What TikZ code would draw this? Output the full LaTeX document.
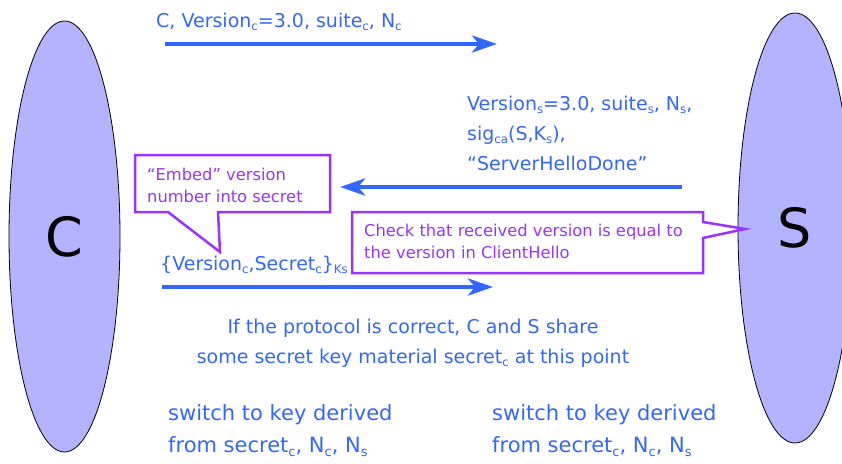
\documentclass[tikz,border=0pt]{standalone}
\usepackage{fontspec}
\setmainfont{DejaVu Sans}
\usetikzlibrary{arrows.meta,shapes.geometric}

\definecolor{msgblue}{RGB}{51,102,255}
\definecolor{notepurple}{RGB}{153,51,255}
\definecolor{partyfill}{RGB}{179,179,255}
\newcommand{\lo}[1]{\raisebox{-0.35ex}{\scalebox{0.62}{#1}}}

\begin{document}
\begin{tikzpicture}[x=1pt,y=-1pt,
	party/.style={ellipse, draw=black, thick, fill=partyfill, inner sep=0pt, font=\fontsize{54}{54}\selectfont},
	msg/.style={draw=msgblue, line width=4.5pt, -{Stealth[length=25pt,width=17pt,inset=7pt]}},
	msgtext/.style={anchor=base west, inner sep=0pt, text=msgblue, font=\fontsize{19}{19}\selectfont},
	bigtext/.style={anchor=base west, inner sep=0pt, text=msgblue, font=\fontsize{21}{21}\selectfont},
	note/.style={draw=notepurple, line width=2.5pt, fill=white, line join=miter},
	notetext/.style={anchor=base west, inner sep=0pt, text=notepurple, font=\fontsize{16.3}{16.3}\selectfont}]
	\useasboundingbox (0,0) rectangle (842,463);

	% the two parties
	\node[party, minimum width=111pt, minimum height=431pt] (C) at (64.5,236.5) {C};
	\node[party, minimum width=114pt, minimum height=430pt] (S) at (795,228) {S};

	% ClientHello
	\node[msgtext] (hello) at (156,27) {C, Version\lo{c}=3.0, suite\lo{c}, N\lo{c}};
	\coordinate (m1a) at (165,44);
	\coordinate (m1b) at (497,44);
	\draw[msg] (m1a) -- (m1b);

	% ServerHello
	\node[msgtext] (shello1) at (467,110) {Version\lo{s}=3.0, suite\lo{s}, N\lo{s},};
	\node[msgtext] (shello2) at (467,140) {sig\lo{ca}(S,K\lo{s}),};
	\node[msgtext] (shello3) at (467,170) {“ServerHelloDone”};
	\coordinate (m2a) at (682,187);
	\coordinate (m2b) at (340,187);
	\draw[msg] (m2a) -- (m2b);

	% callout on the left
	\coordinate (tipE) at (220,252);
	\draw[note] (135,155) -- (330,155) -- (330,212) -- (218,212) -- (tipE) -- (168,212) -- (135,212) -- cycle;
	\node[notetext] (embed1) at (147,180) {“Embed” version};
	\node[notetext] (embed2) at (147,202) {number into secret};

	% callout on the right
	\coordinate (tipS) at (745,229);
	\draw[note] (352,212) -- (703,212) -- (703,222) -- (tipS) -- (703,238) -- (703,273) -- (352,273) -- cycle;
	\node[notetext] (check1) at (364,236) {Check that received version is equal to};
	\node[notetext] (check2) at (364,258) {the version in ClientHello};

	% ClientKeyExchange
	\node[msgtext] (secret) at (160,270) {\{Version\lo{c},Secret\lo{c}\}\lo{Ks}};
	\coordinate (m3a) at (162,287);
	\coordinate (m3b) at (493,287);
	\draw[msg] (m3a) -- (m3b);

	% shared secret
	\node[msgtext, anchor=base] (share1) at (413,333) {If the protocol is correct, C and S share};
	\node[msgtext, anchor=base] (share2) at (413,363) {some secret key material secret\lo{c} at this point};

	% key switch
	\node[bigtext] (swC1) at (168,420) {switch to key derived};
	\node[bigtext] (swC2) at (168,452) {from secret\lo{c}, N\lo{c}, N\lo{s}};
	\node[bigtext] (swS1) at (492,420) {switch to key derived};
	\node[bigtext] (swS2) at (492,452) {from secret\lo{c}, N\lo{c}, N\lo{s}};
\end{tikzpicture}
\end{document}
